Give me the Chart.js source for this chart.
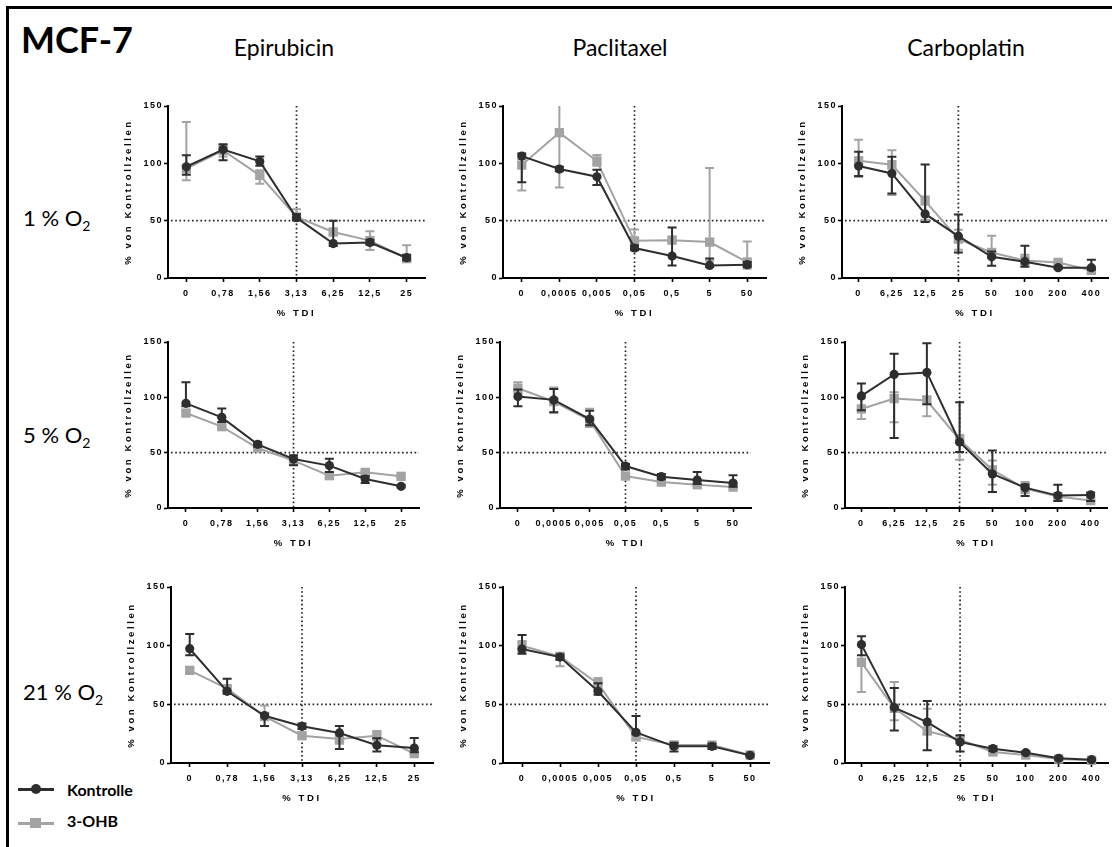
<!DOCTYPE html>
<html>
<head>
<meta charset="utf-8">
<title>MCF-7</title>
<script src="https://cdn.jsdelivr.net/npm/chart.js@4.4.1/dist/chart.umd.min.js"></script>
<style>
  html, body { margin: 0; padding: 0; background: #fff; }
  body { position: relative; width: 1112px; height: 847px; overflow: hidden; font-family: Lato, "Open Sans", sans-serif; color: #000; }
  #frame { position: absolute; left: 6px; top: 6px; width: 1130px; height: 870px; border: 3px solid #000; }
  .txt { position: absolute; line-height: 1; white-space: nowrap; }
  .title { left: 21px; top: 21px; font-size: 36px; font-weight: 700; }
  .col { top: 36px; font-size: 23px; transform: translateX(-50%); }
  .row { left: 23px; font-size: 22px; }
  .row sub { font-size: 14px; vertical-align: -5px; line-height: 0; }
  .key { position: absolute; left: 18px; width: 36px; height: 2.5px; }
  .key i { position: absolute; left: 13px; }
  .key.ctrl { top: 788px; background: #2e2e2e; }
  .key.ctrl i { top: -4px; width: 10px; height: 10px; border-radius: 50%; background: #2e2e2e; }
  .key.ohb { top: 822px; background: #a3a3a3; }
  .key.ohb i { top: -4px; left: 12px; width: 11px; height: 10px; background: #a3a3a3; }
  .keytxt { left: 67px; font-size: 16px; font-weight: 700; }
  canvas.panel { position: absolute; }
</style>
</head>
<body>
<div id="frame"></div>
<div class="txt title">MCF-7</div>
<div class="txt col" style="left:284px">Epirubicin</div>
<div class="txt col" style="left:620px">Paclitaxel</div>
<div class="txt col" style="left:966px">Carboplatin</div>
<div class="txt row" style="top:207px">1 % O<sub>2</sub></div>
<div class="txt row" style="top:424px">5 % O<sub>2</sub></div>
<div class="txt row" style="top:681px">21 % O<sub>2</sub></div>
<div class="key ctrl"><i></i></div>
<div class="txt keytxt" style="top:782px">Kontrolle</div>
<div class="key ohb"><i></i></div>
<div class="txt keytxt" style="top:813px">3-OHB</div>

<script>
// Dose steps on the x axes (% TDI)
const epirubicinDoses = ['0', '0,78', '1,56', '3,13', '6,25', '12,5', '25'];
const paclitaxelDoses = ['0', '0,0005', '0,005', '0,05', '0,5', '5', '50'];
const carboplatinDoses = ['0', '6,25', '12,5', '25', '50', '100', '200', '400'];
const yTicks = [0, 50, 100, 150];
const halfLine = 50;

// Mean viability (% von Kontrollzellen) and error range [low, high]
// 1 % O2
const epi1Ctrl = [97, 112, 101.7, 52.6, 30, 31, 17.7];
const epi1CtrlErr = [[90, 107], [102.6, 116.6], [98, 106], [50.3, 55.5], [28, 50], [29, 33.4], [15.4, 20.3]];
const epi1Ohb = [95.3, 111.3, 89.5, 53.2, 40.1, 32.6, 16.9];
const epi1OhbErr = [[85.2, 136], [106, 115.7], [82.3, 93.9], [51, 59.9], [37.8, 43], [24.4, 40.7], [14.5, 28.5]];

const pac1Ctrl = [106.3, 95, 88.3, 26.1, 19.1, 11, 11.6];
const pac1CtrlErr = [[83.4, 108.6], [93, 97], [81.1, 94.4], [24.3, 28.4], [11, 44], [9.6, 17.1], [9.5, 14]];
const pac1Ohb = [98.5, 126.8, 102, 32.4, 33, 31.3, 13.9];
const pac1OhbErr = [[76.2, 103.7], [79, 175], [97.9, 107.2], [28.4, 42.3], [31.3, 35.9], [15, 95.9], [8.1, 31.9]];

const car1Ctrl = [97.6, 91.2, 55.9, 36.5, 18.5, 14.2, 9, 9];
const car1CtrlErr = [[88.9, 110], [73.8, 105.7], [48.9, 99], [22.3, 55.3], [10.7, 23.2], [9.8, 28.1], [8, 10], [7.2, 15.9]];
const car1Ohb = [102.2, 98.8, 67.2, 33.9, 22.3, 15.3, 13.6, 6.7];
const car1OhbErr = [[88, 120.5], [72.4, 111.5], [50.7, 71], [24.6, 42], [17.4, 36.8], [11.6, 20.3], [12.5, 14.7], [5, 8.7]];

// 5 % O2
const epi5Ctrl = [94.6, 81.9, 57.5, 44.3, 38.3, 26.2, 19.6];
const epi5CtrlErr = [[91.9, 113.6], [77.7, 89.8], [55.3, 59.6], [38.6, 47.6], [32.5, 44.6], [22.6, 28.6], [18.5, 20.7]];
const epi5Ohb = [85.8, 73.5, 54.2, 42.8, 29.2, 32.2, 28.6];
const epi5OhbErr = [[83.7, 87.9], [72, 75], [53, 55.5], [41.5, 44], [27.7, 30.7], [31, 33.4], [27.4, 29.8]];

const pac5Ctrl = [100.7, 97.7, 80.3, 37.9, 28.3, 25.2, 22.5];
const pac5CtrlErr = [[92, 107], [86.6, 107.6], [74.8, 87.8], [34.9, 39.7], [25.9, 30.7], [21.6, 32.5], [19.2, 29.5]];
const pac5Ohb = [108.2, 96.2, 79.4, 28.9, 23.4, 21, 18.9];
const pac5OhbErr = [[103.4, 113.6], [86, 108.8], [73.3, 89.6], [26.6, 31.3], [22.4, 24.4], [20, 22], [18, 19.8]];

const car5Ctrl = [101.3, 120.7, 122.5, 59.6, 30.8, 18.4, 11.2, 11.8];
const car5CtrlErr = [[88.3, 112.5], [63.2, 139.4], [93.7, 148.8], [50.5, 95.6], [14.5, 52], [10.9, 21.5], [6.4, 20.9], [6.4, 13.9]];
const car5Ohb = [89.5, 98.9, 97.1, 61.7, 34.5, 17.5, 10.3, 6.7];
const car5OhbErr = [[80.4, 99.2], [77.4, 104.6], [82.9, 101], [43.5, 65.9], [20.9, 42.9], [13.3, 23.6], [9.3, 11.3], [4.3, 8.8]];

// 21 % O2
const epi21Ctrl = [97.4, 61.1, 40.3, 31.3, 25.6, 15.1, 12.8];
const epi21CtrlErr = [[91.8, 110], [59.1, 71.9], [31.5, 42], [29, 33.6], [11.9, 31.5], [9.7, 21], [9.1, 21.3]];
const epi21Ohb = [79, 63.4, 39.8, 23.3, 20.5, 23.3, 8];
const epi21OhbErr = [[77, 81], [62, 65], [36.4, 49.1], [22, 24.6], [16.5, 23.6], [19.3, 27.3], [7, 9]];

const pac21Ctrl = [97.2, 90.3, 61.1, 26.1, 14.2, 14.2, 6.5];
const pac21CtrlErr = [[93.2, 109.1], [88, 92.5], [58.2, 67.9], [24.4, 40.1], [9.7, 17.3], [12, 16.5], [5.5, 7.5]];
const pac21Ohb = [100, 90.9, 67.6, 22.2, 15.3, 15.3, 6.8];
const pac21OhbErr = [[94.6, 104], [82.4, 93.2], [62.5, 72.4], [19.9, 25.3], [14, 16.6], [14, 16.6], [5.8, 7.8]];

const car21Ctrl = [100.9, 47.2, 34.9, 17.9, 12.2, 8.8, 4, 2.8];
const car21CtrlErr = [[91.8, 108], [27.8, 63.9], [10.8, 52.8], [9.9, 23.6], [10.2, 14.2], [7.8, 9.8], [3, 5], [2, 3.6]];
const car21Ohb = [85.8, 46.6, 27.3, 19.9, 9.4, 6.8, 3.4, 2.3];
const car21OhbErr = [[60.5, 100], [36.4, 69], [24.4, 46.3], [16.5, 22.2], [8.4, 10.4], [5.8, 7.8], [2.4, 4.4], [1.5, 3.1]];

const CTRL_COLOR = '#2e2e2e';
const OHB_COLOR = '#a3a3a3';

// space around each plot area inside its canvas
const PAD_L = 52, PAD_R = 8, PAD_T = 10, PAD_B = 46;

const tickFont = { family: "'Liberation Sans', Arial, sans-serif", size: 9, weight: 'bold' };
const titleFont = { family: "'Liberation Sans', Arial, sans-serif", size: 9.5, weight: 'bold' };

// plot area [left, right, top, bottom] on the page, then the data for each panel
const panels = [
  { box: [168, 425, 106, 278], doses: epirubicinDoses, cut: 3, ctrl: epi1Ctrl, ctrlErr: epi1CtrlErr, ohb: epi1Ohb, ohbErr: epi1OhbErr },
  { box: [503, 766, 106, 278], doses: paclitaxelDoses, cut: 3, ctrl: pac1Ctrl, ctrlErr: pac1CtrlErr, ohb: pac1Ohb, ohbErr: pac1OhbErr },
  { box: [842, 1108, 106, 278], doses: carboplatinDoses, cut: 3, ctrl: car1Ctrl, ctrlErr: car1CtrlErr, ohb: car1Ohb, ohbErr: car1OhbErr },
  { box: [168, 419, 342, 508], doses: epirubicinDoses, cut: 3, ctrl: epi5Ctrl, ctrlErr: epi5CtrlErr, ohb: epi5Ohb, ohbErr: epi5OhbErr },
  { box: [500, 751, 342, 508], doses: paclitaxelDoses, cut: 3, ctrl: pac5Ctrl, ctrlErr: pac5CtrlErr, ohb: pac5Ohb, ohbErr: pac5OhbErr },
  { box: [845, 1107, 342, 508], doses: carboplatinDoses, cut: 3, ctrl: car5Ctrl, ctrlErr: car5CtrlErr, ohb: car5Ohb, ohbErr: car5OhbErr },
  { box: [171, 433, 587, 763], doses: epirubicinDoses, cut: 3, ctrl: epi21Ctrl, ctrlErr: epi21CtrlErr, ohb: epi21Ohb, ohbErr: epi21OhbErr },
  { box: [503, 769, 587, 763], doses: paclitaxelDoses, cut: 3, ctrl: pac21Ctrl, ctrlErr: pac21CtrlErr, ohb: pac21Ohb, ohbErr: pac21OhbErr },
  { box: [845, 1108, 587, 763], doses: carboplatinDoses, cut: 3, ctrl: car21Ctrl, ctrlErr: car21CtrlErr, ohb: car21Ohb, ohbErr: car21OhbErr }
];

/**
 * Error bars with caps, drawn right before the line of the same dataset.
 */
const errorBars = {
  id: 'errorBars',
  beforeDatasetDraw(chart, args) {
    const ds = chart.data.datasets[args.index];
    if (!ds.errors) return;
    const { ctx, chartArea, scales: { y } } = chart;
    ctx.save();
    ctx.beginPath();
    ctx.rect(chartArea.left - 10, chartArea.top, chartArea.width + 20, chartArea.height + 20);
    ctx.clip();
    ctx.strokeStyle = ds.borderColor;
    ctx.lineWidth = 2;
    args.meta.data.forEach((pt, i) => {
      const lo = y.getPixelForValue(ds.errors[i][0]);
      const hi = y.getPixelForValue(ds.errors[i][1]);
      ctx.beginPath();
      ctx.moveTo(pt.x, lo);
      ctx.lineTo(pt.x, hi);
      ctx.moveTo(pt.x - 4.5, lo);
      ctx.lineTo(pt.x + 4.5, lo);
      ctx.moveTo(pt.x - 4.5, hi);
      ctx.lineTo(pt.x + 4.5, hi);
      ctx.stroke();
    });
    ctx.restore();
  }
};

/**
 * Dotted guide lines at 50 % and at the marked dose.
 */
const guideLines = {
  id: 'guideLines',
  beforeDatasetsDraw(chart, args, opts) {
    const { ctx, chartArea, scales: { x, y } } = chart;
    ctx.save();
    ctx.strokeStyle = '#222';
    ctx.lineWidth = 1.7;
    ctx.setLineDash([1.6, 2.6]);
    const yy = y.getPixelForValue(opts.level);
    ctx.beginPath();
    ctx.moveTo(chartArea.left + 3, yy);
    ctx.lineTo(chartArea.right, yy);
    ctx.stroke();
    const xx = x.getPixelForValue(opts.index);
    ctx.beginPath();
    ctx.moveTo(xx, chartArea.top);
    ctx.lineTo(xx, chartArea.bottom);
    ctx.stroke();
    ctx.restore();
  }
};

// Axis titles and tick labels are spaced out; tick labels are drawn after the datasets (ticks.z = 1)
const spacedText = {
  id: 'spacedText',
  beforeDraw(chart) { chart.ctx.letterSpacing = '2.6px'; },
  beforeDatasetsDraw(chart) { chart.ctx.letterSpacing = '0px'; },
  afterDatasetsDraw(chart) { chart.ctx.letterSpacing = '1.5px'; },
  afterDraw(chart) { chart.ctx.letterSpacing = '0px'; }
};

function axisGrid() {
  return { drawOnChartArea: false, drawTicks: true, tickLength: 4, tickWidth: 1.6, tickColor: '#000' };
}

function drawPanel(p) {
  const [L, R, T, B] = p.box;
  const canvas = document.createElement('canvas');
  canvas.className = 'panel';
  canvas.width = R - L + PAD_L + PAD_R;
  canvas.height = B - T + PAD_T + PAD_B;
  canvas.style.left = (L - PAD_L) + 'px';
  canvas.style.top = (T - PAD_T) + 'px';
  document.body.appendChild(canvas);

  new Chart(canvas, {
    type: 'line',
    data: {
      labels: p.doses,
      datasets: [
        {
          label: 'Kontrolle',
          data: p.ctrl,
          errors: p.ctrlErr,
          borderColor: CTRL_COLOR,
          backgroundColor: CTRL_COLOR,
          borderWidth: 2,
          pointStyle: 'circle',
          pointRadius: 4.6,
          pointBorderWidth: 0,
          clip: false
        },
        {
          label: '3-OHB',
          data: p.ohb,
          errors: p.ohbErr,
          borderColor: OHB_COLOR,
          backgroundColor: OHB_COLOR,
          borderWidth: 2,
          pointStyle: 'rect',
          pointRadius: 6.6,
          pointBorderWidth: 0,
          clip: false
        }
      ]
    },
    options: {
      responsive: false,
      animation: false,
      devicePixelRatio: 1,
      events: [],
      layout: { padding: { left: 0, right: PAD_R, top: PAD_T, bottom: 0 } },
      plugins: {
        legend: { display: false },
        tooltip: { enabled: false },
        guideLines: { level: halfLine, index: p.cut }
      },
      scales: {
        x: {
          offset: true,
          afterFit: s => { s.height = PAD_B; },
          ticks: { font: tickFont, color: '#000', padding: 6.5, maxRotation: 0, autoSkip: false, z: 1 },
          grid: axisGrid(),
          border: { color: '#000', width: 2 },
          title: { display: true, text: '% TDI', font: titleFont, color: '#000', padding: { top: 0, bottom: 5.3 } }
        },
        y: {
          min: yTicks[0],
          max: yTicks[yTicks.length - 1],
          afterFit: s => { s.width = PAD_L; },
          afterBuildTicks: s => { s.ticks = yTicks.map(v => ({ value: v })); },
          ticks: { font: tickFont, color: '#000', padding: 1, z: 1 },
          grid: axisGrid(),
          border: { color: '#000', width: 2 },
          title: { display: true, text: '% von Kontrollzellen', font: titleFont, color: '#000', padding: { top: 6.3, bottom: 0 } }
        }
      }
    },
    plugins: [errorBars, guideLines, spacedText]
  });
}

panels.forEach(drawPanel);
</script>
</body>
</html>
